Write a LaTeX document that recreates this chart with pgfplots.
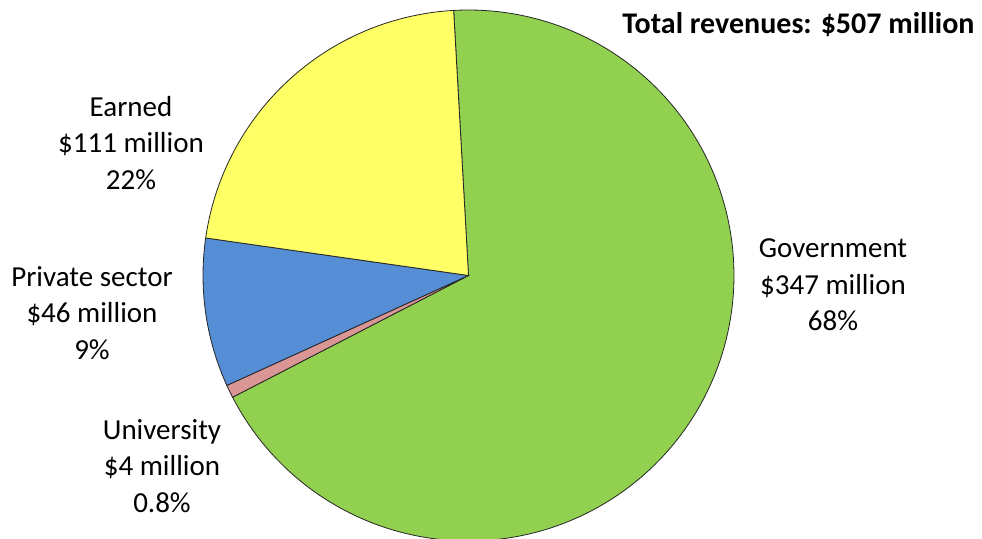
\documentclass[border=0pt]{standalone}
\usepackage{fontspec}
\setmainfont{Carlito}
\usepackage{pgfplots}
\usepackage{pgfplotstable}
\pgfplotsset{compat=1.18}
\definecolor{cGov}{HTML}{92D050}
\definecolor{cUni}{HTML}{D99694}
\definecolor{cPri}{HTML}{558ED5}
\definecolor{cEar}{HTML}{FFFF66}
\definecolor{cEdge}{HTML}{262626}

% revenue by source, in $ million, in clockwise order from the top
\pgfplotstableread{
label value
Government 347
University 4
Private 46
Earned 111
}\revtable

\pgfplotstablegetelem{0}{value}\of\revtable \let\vGov\pgfplotsretval
\pgfplotstablegetelem{1}{value}\of\revtable \let\vUni\pgfplotsretval
\pgfplotstablegetelem{2}{value}\of\revtable \let\vPri\pgfplotsretval
\pgfplotstablegetelem{3}{value}\of\revtable \let\vEar\pgfplotsretval
\pgfmathsetmacro\vTot{\vGov+\vUni+\vPri+\vEar}
\pgfmathsetmacro\aA{93.2}
\pgfmathsetmacro\aB{\aA-360*(\vGov/\vTot)}
\pgfmathsetmacro\aC{\aB-360*(\vUni/\vTot)}
\pgfmathsetmacro\aD{\aC-360*(\vPri/\vTot)}
\pgfmathsetmacro\aE{\aD-360*(\vEar/\vTot)}
\def\cx{468.5}
\def\cy{262.5}
\def\rr{265.5}

\begin{document}
\begin{tikzpicture}
\begin{axis}[
  width=982pt, height=538pt, scale only axis,
  xmin=0, xmax=982, ymin=0, ymax=538,
  hide axis,
  clip=true,
]
\addplot[fill=cGov, draw=cEdge, line width=0.8pt, domain=\aB:\aA, samples=150, variable=\t]
  ({\cx+\rr*cos(t)},{\cy+\rr*sin(t)}) -- (axis cs:\cx,\cy) -- cycle;
\addplot[fill=cUni, draw=cEdge, line width=0.8pt, domain=\aC:\aB, samples=8, variable=\t]
  ({\cx+\rr*cos(t)},{\cy+\rr*sin(t)}) -- (axis cs:\cx,\cy) -- cycle;
\addplot[fill=cPri, draw=cEdge, line width=0.8pt, domain=\aD:\aC, samples=40, variable=\t]
  ({\cx+\rr*cos(t)},{\cy+\rr*sin(t)}) -- (axis cs:\cx,\cy) -- cycle;
\addplot[fill=cEar, draw=cEdge, line width=0.8pt, domain=\aE:\aD, samples=80, variable=\t]
  ({\cx+\rr*cos(t)},{\cy+\rr*sin(t)}) -- (axis cs:\cx,\cy) -- cycle;

\node[align=center, font=\fontsize{29}{36.5}\selectfont] at (axis cs:131,395) {Earned\\\$111 million\\22\%};
\node[align=center, font=\fontsize{29}{36.5}\selectfont] at (axis cs:92,225) {Private sector\\\$46 million\\9\%};
\node[align=center, font=\fontsize{29}{36.5}\selectfont] at (axis cs:162,72) {University\\\$4 million\\0.8\%};
\node[align=center, font=\fontsize{29}{36.5}\selectfont] at (axis cs:833,253) {Government\\\$347 million\\68\%};
\node[anchor=east, font=\fontsize{30}{34}\selectfont\bfseries] at (axis cs:978,513) {Total revenues: \$507 million};
\end{axis}
\pgfresetboundingbox
\path[use as bounding box] (current axis.south west) rectangle (current axis.north east);
\end{tikzpicture}
\end{document}
